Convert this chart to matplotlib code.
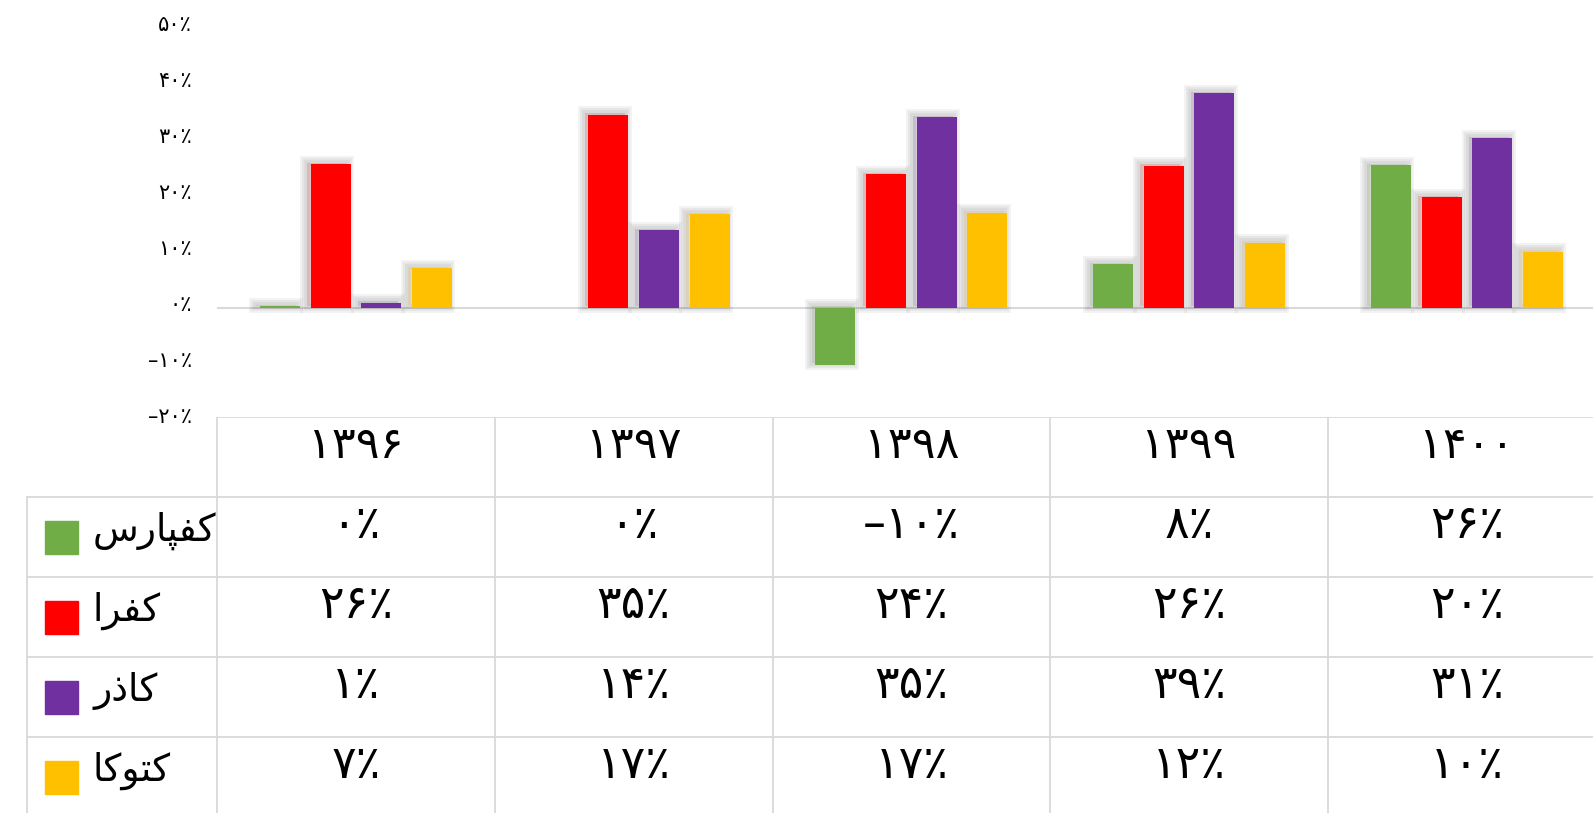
import numpy as np
import matplotlib.pyplot as plt
from matplotlib import patheffects
from matplotlib.patches import Rectangle
from matplotlib.transforms import ScaledTranslation

plt.rcParams['font.family'] = ['DejaVu Sans', 'Noto Sans']

years = ['1396', '1397', '1398', '1399', '1400']
companies = ['کفپارس', 'کفرا', 'کاذر', 'کتوکا']
colors = ['#70ad47', '#ff0000', '#7030a0', '#ffc000']

# bar heights (percent)
kafpars = [0.3, 0.0, -10.2, 7.8, 25.5]
kafra = [25.7, 34.5, 23.9, 25.4, 19.8]
kazar = [0.9, 13.8, 34.0, 38.3, 30.3]
ktoka = [7.0, 16.7, 17.0, 11.6, 10.0]
values = [kafpars, kafra, kazar, ktoka]

# numbers printed in the data table
kafpars_lbl = [0, 0, -10, 8, 26]
kafra_lbl = [26, 35, 24, 26, 20]
kazar_lbl = [1, 14, 35, 39, 31]
ktoka_lbl = [7, 17, 17, 12, 10]
labels = [kafpars_lbl, kafra_lbl, kazar_lbl, ktoka_lbl]

yticks = [-20, -10, 0, 10, 20, 30, 40, 50]

FA = str.maketrans('0123456789', '۰۱۲۳۴۵۶۷۸۹')

def fa_pct(v):
    s = str(abs(v)).translate(FA) + '٪'
    return ('–' + s) if v < 0 else s

# minimal arabic shaping for the few letters used
FORMS = {
    'ک': ('\uFB8E', '\uFB8F', '\uFB90', '\uFB91'),
    'ف': ('\uFED1', '\uFED2', '\uFED3', '\uFED4'),
    'پ': ('\uFB56', '\uFB57', '\uFB58', '\uFB59'),
    'ت': ('\uFE95', '\uFE96', '\uFE97', '\uFE98'),
    'س': ('\uFEB1', '\uFEB2', '\uFEB3', '\uFEB4'),
    'ا': ('\uFE8D', '\uFE8E'),
    'ر': ('\uFEAD', '\uFEAE'),
    'ذ': ('\uFEAB', '\uFEAC'),
    'و': ('\uFEED', '\uFEEE'),
}

def shape(word):
    out = []
    for i, ch in enumerate(word):
        f = FORMS[ch]
        prev_j = i > 0 and len(FORMS[word[i - 1]]) == 4
        next_j = i < len(word) - 1 and len(f) == 4
        if prev_j and next_j:
            k = 3
        elif prev_j:
            k = 1
        elif next_j:
            k = 2
        else:
            k = 0
        out.append(f[k])
    return ''.join(reversed(out))


W, H = 1593, 813
fig = plt.figure(figsize=(W / 100, H / 100), dpi=100)

colw = 277.75          # px per category
x0 = 217               # left edge of plot / table body
xmin = -0.5
xmax = -0.5 + (W - x0) / colw

# ---- chart ----
ax_top, ax_bot = 28, 419.5
ax = fig.add_axes([x0 / W, (H - ax_bot) / H, (W - x0) / W, (ax_bot - ax_top) / H])
x = np.arange(len(years))
bw = 0.144
pitch = 0.1825
shadow = [patheffects.Stroke(linewidth=w, foreground='black', alpha=0.05, offset=(-2.5, 1))
          for w in (10, 7, 4)] + [patheffects.Normal()]
for i, (vals, c) in enumerate(zip(values, colors)):
    bars = ax.bar(x + (i - 1.5) * pitch, vals, width=bw, color=c, zorder=3)
    for b in bars:
        if b.get_height() != 0:
            b.set_path_effects(shadow)
ax.axhline(0, color='#d9d9d9', lw=1.5, zorder=2)
ax.set_xlim(xmin, xmax)
ax.set_ylim(-20, 50)
ax.set_yticks(yticks)
ax.set_yticklabels([fa_pct(v) for v in yticks], fontsize=15)
ax.tick_params(axis='y', length=0, pad=18)
lift = ScaledTranslation(0, 5 / 100, fig.dpi_scale_trans)
for t in ax.get_yticklabels():
    t.set_transform(t.get_transform() + lift)
ax.set_xticks([])
for s in ax.spines.values():
    s.set_visible(False)

# ---- data table ----
rowh = 80
tb_top = 417
tb = fig.add_axes([0, 0, 1, (H - tb_top) / H])
tb.set_xlim(xmin - x0 / colw, xmax)
tb.set_ylim((H - tb_top) / rowh, 0)
tb.axis('off')
xl = xmin - (x0 - 27) / colw
grid = dict(color='#d9d9d9', lw=1.3)
tb.plot([xmin, xmax], [0, 0], **grid)
for r in range(1, 6):
    tb.plot([xl, xmax], [r, r], **grid)
for k in range(len(years) + 1):
    tb.plot([xmin + k, xmin + k], [0, 6], **grid)
tb.plot([xl, xl], [1, 6], **grid)

for j, yr in enumerate(years):
    tb.text(j, 0.36, yr.translate(FA), ha='center', va='center', fontsize=32)
for i, (name, c, lbl) in enumerate(zip(companies, colors, labels)):
    yc = i + 1.5
    tb.add_patch(Rectangle((xmin - (x0 - 45) / colw, yc - 0.2), 33 / colw, 0.41, color=c))
    tb.text(xmin - (x0 - 93) / colw, yc - 0.08, shape(name), ha='left', va='center', fontsize=27)
    for j, v in enumerate(lbl):
        tb.text(j, yc - 0.14, fa_pct(v), ha='center', va='center', fontsize=33)

fig.savefig('out.png', dpi=100)
